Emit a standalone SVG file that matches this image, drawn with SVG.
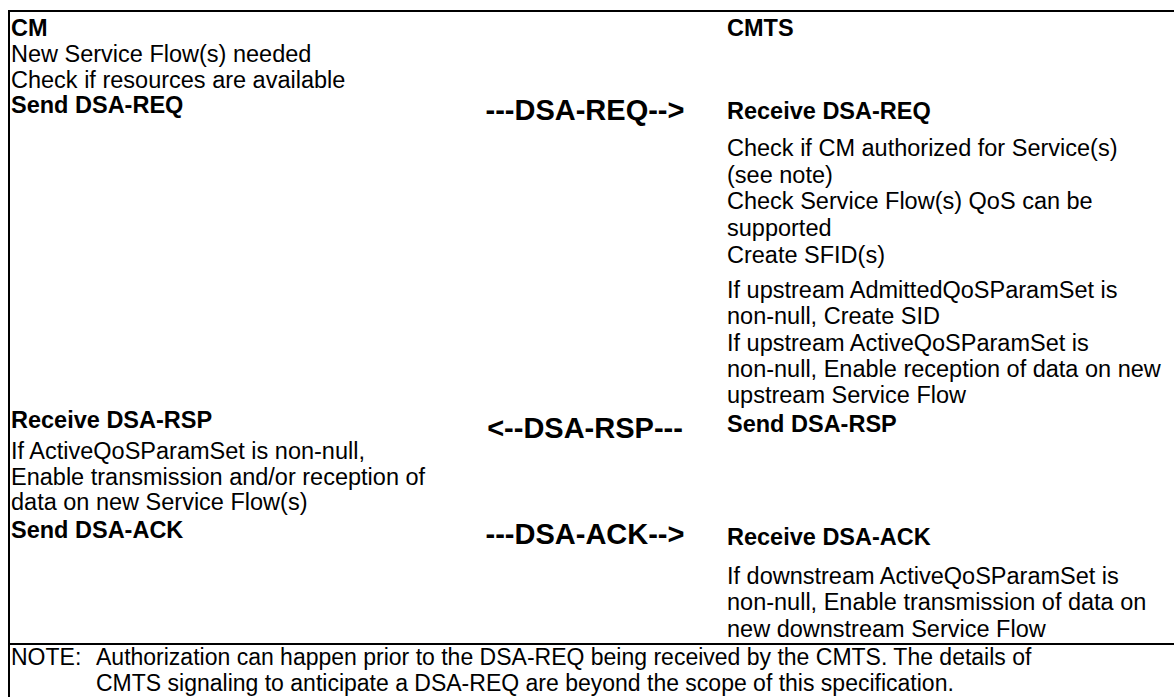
<svg xmlns="http://www.w3.org/2000/svg" width="1174" height="697" viewBox="0 0 1174 697">
<style>
text{font-family:"Liberation Sans",Arial,sans-serif;font-size:23.5px;fill:#000}
.b{font-weight:bold}
.m{font-weight:bold;font-size:29px;text-anchor:middle}
.n{font-size:23px}
.ln{stroke:#000;stroke-width:2;fill:none}
</style>
<rect width="1174" height="697" fill="#fff"/>
<g id="frame">
<line class="ln" x1="8" y1="11" x2="1174" y2="11"/>
<line class="ln" x1="9" y1="10" x2="9" y2="697"/>
<line class="ln" x1="8" y1="644" x2="1174" y2="644"/>
</g>
<g id="cm">
<text x="11" y="36" class="b">CM</text>
<text x="11" y="62">New Service Flow(s) needed</text>
<text x="11" y="88">Check if resources are available</text>
<text x="11" y="113" class="b">Send DSA-REQ</text>
<text x="11" y="428" class="b">Receive DSA-RSP</text>
<text x="11" y="459">If ActiveQoSParamSet is non-null,</text>
<text x="11" y="485">Enable transmission and/or reception of</text>
<text x="11" y="510">data on new Service Flow(s)</text>
<text x="11" y="538" class="b">Send DSA-ACK</text>
</g>
<g id="cmts">
<text x="727" y="36" class="b">CMTS</text>
<text x="727" y="119" class="b">Receive DSA-REQ</text>
<text x="727" y="156">Check if CM authorized for Service(s)</text>
<text x="727" y="183">(see note)</text>
<text x="727" y="209">Check Service Flow(s) QoS can be</text>
<text x="727" y="236">supported</text>
<text x="727" y="263">Create SFID(s)</text>
<text x="727" y="298">If upstream AdmittedQoSParamSet is</text>
<text x="727" y="324">non-null, Create SID</text>
<text x="727" y="351">If upstream ActiveQoSParamSet is</text>
<text x="727" y="377">non-null, Enable reception of data on new</text>
<text x="727" y="403">upstream Service Flow</text>
<text x="727" y="432" class="b">Send DSA-RSP</text>
<text x="727" y="545" class="b">Receive DSA-ACK</text>
<text x="727" y="584">If downstream ActiveQoSParamSet is</text>
<text x="727" y="610">non-null, Enable transmission of data on</text>
<text x="727" y="637">new downstream Service Flow</text>
</g>
<g id="connectors">
<text x="585" y="120" class="m">---DSA-REQ--&gt;</text>
<text x="585" y="438" class="m">&lt;--DSA-RSP---</text>
<text x="585" y="544" class="m">---DSA-ACK--&gt;</text>
</g>
<g id="note">
<text x="11" y="665" class="n">NOTE:</text>
<text x="96" y="665" class="n">Authorization can happen prior to the DSA-REQ being received by the CMTS. The details of</text>
<text x="96" y="691" class="n">CMTS signaling to anticipate a DSA-REQ are beyond the scope of this specification.</text>
</g>
</svg>
